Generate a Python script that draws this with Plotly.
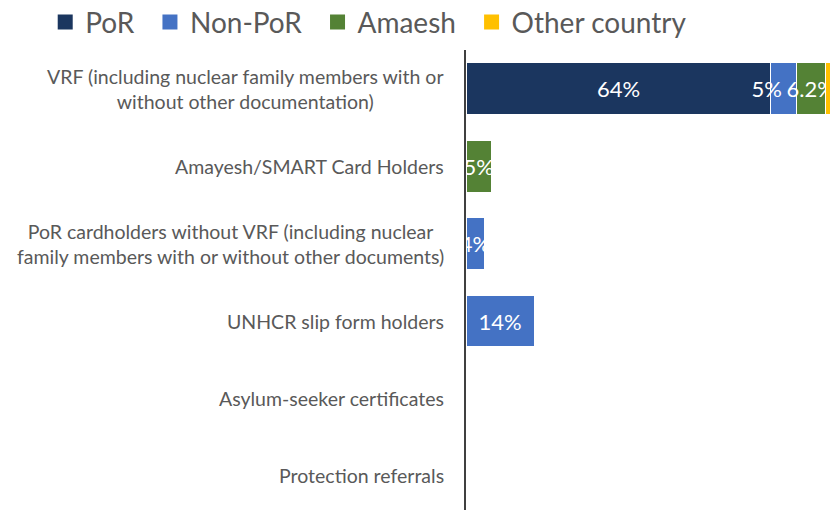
import plotly.graph_objects as go

categories = [
    "VRF (including nuclear family members with or<br>without other documentation)",
    "Amayesh/SMART Card Holders",
    "PoR cardholders without VRF (including nuclear<br>family members with or without other documents)",
    "UNHCR slip form holders",
    "Asylum-seeker certificates",
    "Protection referrals",
]
series_names = ["PoR", "Non-PoR", "Amaesh", "Other country"]
por = [64, 0, 0, 0, 0, 0]
non_por = [5.3, 0, 3.8, 14.3, 0, 0]
amaesh = [6.1, 5.3, 0, 0, 0, 0]
other = [2.0, 0, 0, 0, 0, 0]
por_labels = ["64%", "", "", "", "", ""]
non_por_labels = ["5%" + "\u00a0" * 6, "", "4%", "14%", "", ""]
amaesh_labels = ["6.2%", "5%", "", "", "", ""]
other_labels = ["2%", "", "", "", "", ""]

colors = ["#1B365F", "#4472C4", "#548235", "#FFC000"]
values = [por, non_por, amaesh, other]
labels = [por_labels, non_por_labels, amaesh_labels, other_labels]

fig = go.Figure()
for name, vals, txt, col in zip(series_names, values, labels, colors):
    fig.add_trace(go.Bar(
        y=categories, x=vals, orientation="h", name=name, showlegend=False,
        marker=dict(color=col, line=dict(color="white", width=1)),
        text=txt, textposition="inside", insidetextanchor="middle",
        textangle=0, constraintext="none",
        textfont=dict(color="white", size=22, family="Lato"),
        cliponaxis=False, hoverinfo="skip",
    ))
    # legend entry with a larger square symbol
    fig.add_trace(go.Scatter(
        x=[None], y=[None], mode="markers", name=name + "\u00a0\u2009",
        marker=dict(symbol="square", size=15, color=col),
        showlegend=True, hoverinfo="skip",
    ))

for c in categories:
    fig.add_annotation(
        x=0, xref="paper", y=c, yref="y", xanchor="right", xshift=-20,
        text=c, showarrow=False, align="center",
        font=dict(family="Lato", size=19.5, color="#595959"),
    )

fig.update_layout(
    width=830, height=510,
    barmode="stack", bargap=0.33,
    margin=dict(l=466, r=0, t=50, b=0, autoexpand=False),
    paper_bgcolor="white", plot_bgcolor="white",
    font=dict(family="Lato", color="#595959"),
    legend=dict(orientation="h", x=-1.156, xanchor="left", y=1.06, yanchor="middle",
                font=dict(size=28, color="#595959", family="Lato"),
                traceorder="normal", itemsizing="trace", tracegroupgap=0),
    xaxis=dict(range=[0, 76.4], showticklabels=False, showgrid=False, zeroline=False,
               showline=False),
    yaxis=dict(categoryorder="array", categoryarray=categories,
               range=[5.44, -0.5], showticklabels=False, showgrid=False,
               showline=True, linecolor="#404040", linewidth=1.5, ticks=""),
)

fig.write_html("out.html", config={"displayModeBar": False},
               post_script="document.body.style.margin='0';document.body.style.overflow='hidden';")
